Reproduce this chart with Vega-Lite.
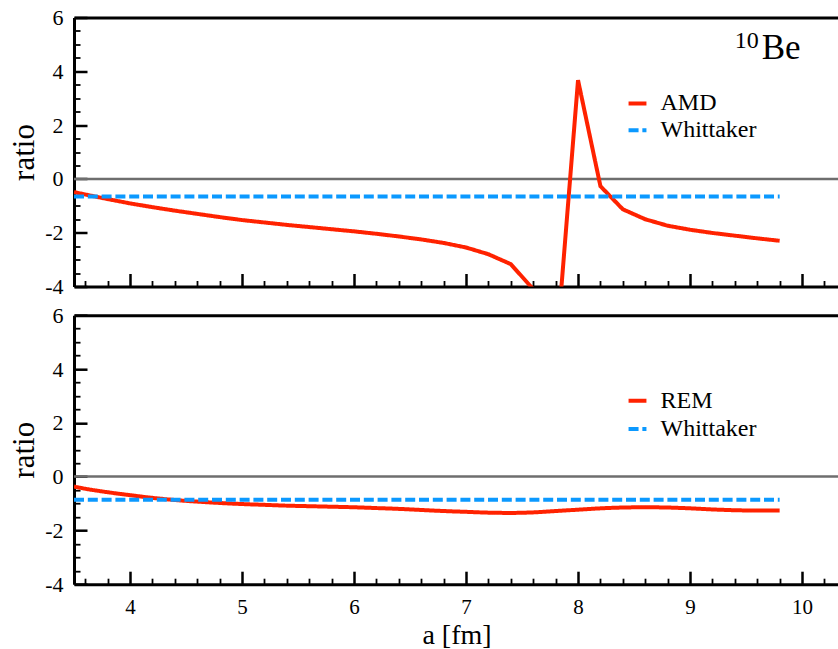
{
  "$schema": "https://vega.github.io/schema/vega-lite/v6.json",
  "background": "white",
  "padding": {"left": 8, "top": 6.5, "right": 0, "bottom": 0},
  "config": {
    "font": "Liberation Serif",
    "view": {"stroke": null},
    "style": {"guide-label": {"font": "Liberation Serif"}, "guide-title": {"font": "Liberation Serif"}},
    "axis": {"labelFont": "Liberation Serif", "titleFont": "Liberation Serif", "labelColor": "black", "titleColor": "black", "domainColor": "black", "tickColor": "black", "grid": false, "titleFontWeight": "normal"},
    "legend": {"labelFont": "Liberation Serif"},
    "text": {"font": "Liberation Serif", "color": "black"}
  },
  "datasets": {
    "amd": [
      {"a": 3.5, "ratio": -0.49, "series": "AMD"},
      {"a": 3.6, "ratio": -0.58, "series": "AMD"},
      {"a": 3.8, "ratio": -0.75, "series": "AMD"},
      {"a": 4.0, "ratio": -0.91, "series": "AMD"},
      {"a": 4.2, "ratio": -1.05, "series": "AMD"},
      {"a": 4.4, "ratio": -1.18, "series": "AMD"},
      {"a": 4.6, "ratio": -1.30, "series": "AMD"},
      {"a": 4.8, "ratio": -1.42, "series": "AMD"},
      {"a": 5.0, "ratio": -1.53, "series": "AMD"},
      {"a": 5.2, "ratio": -1.62, "series": "AMD"},
      {"a": 5.4, "ratio": -1.71, "series": "AMD"},
      {"a": 5.6, "ratio": -1.79, "series": "AMD"},
      {"a": 5.8, "ratio": -1.87, "series": "AMD"},
      {"a": 6.0, "ratio": -1.95, "series": "AMD"},
      {"a": 6.2, "ratio": -2.04, "series": "AMD"},
      {"a": 6.4, "ratio": -2.14, "series": "AMD"},
      {"a": 6.6, "ratio": -2.25, "series": "AMD"},
      {"a": 6.8, "ratio": -2.38, "series": "AMD"},
      {"a": 7.0, "ratio": -2.55, "series": "AMD"},
      {"a": 7.2, "ratio": -2.80, "series": "AMD"},
      {"a": 7.4, "ratio": -3.17, "series": "AMD"},
      {"a": 7.6, "ratio": -4.10, "series": "AMD"},
      {"a": 7.8, "ratio": -6.70, "series": "AMD"},
      {"a": 8.0, "ratio": 3.67, "series": "AMD"},
      {"a": 8.2, "ratio": -0.27, "series": "AMD"},
      {"a": 8.4, "ratio": -1.13, "series": "AMD"},
      {"a": 8.6, "ratio": -1.50, "series": "AMD"},
      {"a": 8.8, "ratio": -1.74, "series": "AMD"},
      {"a": 9.0, "ratio": -1.89, "series": "AMD"},
      {"a": 9.2, "ratio": -2.01, "series": "AMD"},
      {"a": 9.4, "ratio": -2.11, "series": "AMD"},
      {"a": 9.6, "ratio": -2.21, "series": "AMD"},
      {"a": 9.8, "ratio": -2.30, "series": "AMD"}
    ],
    "whitTop": [
      {"a": 3.5, "ratio": -0.65, "series": "Whittaker"},
      {"a": 9.8, "ratio": -0.65, "series": "Whittaker"}
    ],
    "rem": [
      {"a": 3.5, "ratio": -0.37, "series": "REM"},
      {"a": 3.6, "ratio": -0.45, "series": "REM"},
      {"a": 3.8, "ratio": -0.58, "series": "REM"},
      {"a": 4.0, "ratio": -0.69, "series": "REM"},
      {"a": 4.2, "ratio": -0.79, "series": "REM"},
      {"a": 4.4, "ratio": -0.87, "series": "REM"},
      {"a": 4.6, "ratio": -0.93, "series": "REM"},
      {"a": 4.8, "ratio": -0.98, "series": "REM"},
      {"a": 5.0, "ratio": -1.02, "series": "REM"},
      {"a": 5.2, "ratio": -1.05, "series": "REM"},
      {"a": 5.4, "ratio": -1.08, "series": "REM"},
      {"a": 5.6, "ratio": -1.10, "series": "REM"},
      {"a": 5.8, "ratio": -1.12, "series": "REM"},
      {"a": 6.0, "ratio": -1.14, "series": "REM"},
      {"a": 6.2, "ratio": -1.17, "series": "REM"},
      {"a": 6.4, "ratio": -1.20, "series": "REM"},
      {"a": 6.6, "ratio": -1.24, "series": "REM"},
      {"a": 6.8, "ratio": -1.28, "series": "REM"},
      {"a": 7.0, "ratio": -1.31, "series": "REM"},
      {"a": 7.2, "ratio": -1.34, "series": "REM"},
      {"a": 7.4, "ratio": -1.35, "series": "REM"},
      {"a": 7.6, "ratio": -1.33, "series": "REM"},
      {"a": 7.8, "ratio": -1.28, "series": "REM"},
      {"a": 8.0, "ratio": -1.23, "series": "REM"},
      {"a": 8.2, "ratio": -1.18, "series": "REM"},
      {"a": 8.4, "ratio": -1.15, "series": "REM"},
      {"a": 8.6, "ratio": -1.14, "series": "REM"},
      {"a": 8.8, "ratio": -1.15, "series": "REM"},
      {"a": 9.0, "ratio": -1.18, "series": "REM"},
      {"a": 9.2, "ratio": -1.22, "series": "REM"},
      {"a": 9.4, "ratio": -1.25, "series": "REM"},
      {"a": 9.6, "ratio": -1.26, "series": "REM"},
      {"a": 9.8, "ratio": -1.26, "series": "REM"}
    ],
    "whitBottom": [
      {"a": 3.5, "ratio": -0.86, "series": "Whittaker"},
      {"a": 9.8, "ratio": -0.86, "series": "Whittaker"}
    ]
  },
  "bounds": "flush",
  "spacing": 28.7,
  "resolve": {
    "scale": {"color": "independent", "strokeDash": "independent"},
    "legend": {"color": "independent", "strokeDash": "independent"}
  },
  "vconcat": [
    {
      "width": 765,
      "height": 269,
      "resolve": {"axis": {"x": "independent", "y": "independent"}},
      "layer": [
        {
          "data": {"values": [{}]},
          "mark": {"type": "rule", "color": "#6e6e6e", "strokeWidth": 2.5},
          "encoding": {
            "x": {"datum": 3.5, "type": "quantitative", "scale": {"domain": [3.5, 10.33], "nice": false, "zero": false},
              "axis": {"orient": "bottom", "values": [3.6, 3.8, 4.2, 4.4, 4.6, 4.8, 5.2, 5.4, 5.6, 5.8, 6.2, 6.4, 6.6, 6.8, 7.2, 7.4, 7.6, 7.8, 8.2, 8.4, 8.6, 8.8, 9.2, 9.4, 9.6, 9.8, 10.2], "tickSize": -6, "tickWidth": 1.8, "labels": false, "domain": false, "title": null}},
            "x2": {"datum": 10.33},
            "y": {"datum": 0, "type": "quantitative", "scale": {"domain": [-4, 6], "nice": false, "zero": false},
              "axis": {"orient": "left", "values": [-3.5, -3, -2.5, -1.5, -1, -0.5, 0.5, 1, 1.5, 2.5, 3, 3.5, 4.5, 5, 5.5], "tickSize": -6, "tickWidth": 1.8, "labels": false, "domain": false, "title": null}}
          }
        },
        {
          "data": {"name": "amd"},
          "mark": {"type": "line", "strokeWidth": 4, "clip": true},
          "encoding": {
            "x": {"field": "a", "type": "quantitative",
              "axis": {"orient": "bottom", "values": [4, 5, 6, 7, 8, 9, 10], "tickSize": -13, "tickWidth": 2.5, "domainWidth": 3, "labels": false, "title": null}},
            "y": {"field": "ratio", "type": "quantitative",
              "axis": {"orient": "left", "values": [-4, -2, 0, 2, 4, 6], "tickSize": -13, "tickWidth": 2.5, "domainWidth": 3, "labelFont": "Liberation Serif", "labelFontSize": 22, "labelPadding": 24, "labelFlush": false, "labelExpr": "'' + datum.value", "title": "ratio", "titleFont": "Liberation Serif", "titleFontSize": 31, "titlePadding": 4}},
            "color": {"field": "series", "type": "nominal", "scale": {"domain": ["AMD", "Whittaker"], "range": ["#ff2200", "#0b99ff"]},
              "legend": {"orient": "none", "legendX": 551.5, "legendY": 73.9, "title": null, "labelFontSize": 24, "labelFont": "Liberation Serif", "labelColor": "black", "symbolType": "stroke", "symbolSize": 320, "symbolStrokeWidth": 4, "labelOffset": 11, "rowPadding": 2.9, "padding": 0}},
            "strokeDash": {"field": "series", "type": "nominal", "scale": {"domain": ["AMD", "Whittaker"], "range": [[1, 0], [10, 3.8]]},
              "legend": {"orient": "none", "legendX": 551.5, "legendY": 73.9, "title": null, "labelFontSize": 24, "labelFont": "Liberation Serif", "labelColor": "black", "symbolType": "stroke", "symbolSize": 320, "symbolStrokeWidth": 4, "labelOffset": 11, "rowPadding": 2.9, "padding": 0}}
          }
        },
        {
          "data": {"name": "whitTop"},
          "mark": {"type": "line", "strokeWidth": 4, "clip": true},
          "encoding": {
            "x": {"field": "a", "type": "quantitative",
              "axis": {"orient": "top", "ticks": false, "labels": false, "domain": true, "domainWidth": 3, "title": null}},
            "y": {"field": "ratio", "type": "quantitative", "axis": null},
            "color": {"field": "series", "type": "nominal"},
            "strokeDash": {"field": "series", "type": "nominal"}
          }
        },
        {
          "data": {"values": [{}]},
          "mark": {"type": "text", "text": "10", "font": "Liberation Serif", "fontSize": 24, "align": "left", "baseline": "alphabetic"},
          "encoding": {
            "x": {"datum": 9.40, "type": "quantitative", "axis": null},
            "y": {"datum": 4.875, "type": "quantitative", "axis": null}
          }
        },
        {
          "data": {"values": [{}]},
          "mark": {"type": "text", "text": "Be", "font": "Liberation Serif", "fontSize": 35, "align": "left", "baseline": "alphabetic"},
          "encoding": {
            "x": {"datum": 9.64, "type": "quantitative", "axis": null},
            "y": {"datum": 4.44, "type": "quantitative", "axis": null}
          }
        }
      ]
    },
    {
      "width": 765,
      "height": 269,
      "resolve": {"axis": {"x": "independent", "y": "independent"}},
      "layer": [
        {
          "data": {"values": [{}]},
          "mark": {"type": "rule", "color": "#6e6e6e", "strokeWidth": 2.5},
          "encoding": {
            "x": {"datum": 3.5, "type": "quantitative", "scale": {"domain": [3.5, 10.33], "nice": false, "zero": false},
              "axis": {"orient": "bottom", "values": [3.6, 3.8, 4.2, 4.4, 4.6, 4.8, 5.2, 5.4, 5.6, 5.8, 6.2, 6.4, 6.6, 6.8, 7.2, 7.4, 7.6, 7.8, 8.2, 8.4, 8.6, 8.8, 9.2, 9.4, 9.6, 9.8, 10.2], "tickSize": -6, "tickWidth": 1.8, "labels": false, "domain": false, "title": null}},
            "x2": {"datum": 10.33},
            "y": {"datum": 0, "type": "quantitative", "scale": {"domain": [-4, 6], "nice": false, "zero": false},
              "axis": {"orient": "left", "values": [-3.5, -3, -2.5, -1.5, -1, -0.5, 0.5, 1, 1.5, 2.5, 3, 3.5, 4.5, 5, 5.5], "tickSize": -6, "tickWidth": 1.8, "labels": false, "domain": false, "title": null}}
          }
        },
        {
          "data": {"name": "rem"},
          "mark": {"type": "line", "strokeWidth": 4, "clip": true, "interpolate": "monotone"},
          "encoding": {
            "x": {"field": "a", "type": "quantitative",
              "axis": {"orient": "bottom", "values": [4, 5, 6, 7, 8, 9, 10], "tickSize": -13, "tickWidth": 2.5, "domainWidth": 3, "labelFont": "Liberation Serif", "labelFontSize": 21, "labelPadding": 25, "labelFlush": false, "labelExpr": "'' + datum.value", "title": "a [fm]", "titleFont": "Liberation Serif", "titleFontSize": 28, "titlePadding": 4}},
            "y": {"field": "ratio", "type": "quantitative",
              "axis": {"orient": "left", "values": [-4, -2, 0, 2, 4, 6], "tickSize": -13, "tickWidth": 2.5, "domainWidth": 3, "labelFont": "Liberation Serif", "labelFontSize": 22, "labelPadding": 24, "labelFlush": false, "labelExpr": "'' + datum.value", "title": "ratio", "titleFont": "Liberation Serif", "titleFontSize": 31, "titlePadding": 4}},
            "color": {"field": "series", "type": "nominal", "scale": {"domain": ["REM", "Whittaker"], "range": ["#ff2200", "#0b99ff"]},
              "legend": {"orient": "none", "legendX": 551.5, "legendY": 73.6, "title": null, "labelFontSize": 24, "labelFont": "Liberation Serif", "labelColor": "black", "symbolType": "stroke", "symbolSize": 320, "symbolStrokeWidth": 4, "labelOffset": 11, "rowPadding": 4.3, "padding": 0}},
            "strokeDash": {"field": "series", "type": "nominal", "scale": {"domain": ["REM", "Whittaker"], "range": [[1, 0], [10, 3.8]]},
              "legend": {"orient": "none", "legendX": 551.5, "legendY": 73.6, "title": null, "labelFontSize": 24, "labelFont": "Liberation Serif", "labelColor": "black", "symbolType": "stroke", "symbolSize": 320, "symbolStrokeWidth": 4, "labelOffset": 11, "rowPadding": 4.3, "padding": 0}}
          }
        },
        {
          "data": {"name": "whitBottom"},
          "mark": {"type": "line", "strokeWidth": 4, "clip": true},
          "encoding": {
            "x": {"field": "a", "type": "quantitative",
              "axis": {"orient": "top", "ticks": false, "labels": false, "domain": true, "domainWidth": 3, "title": null}},
            "y": {"field": "ratio", "type": "quantitative", "axis": null},
            "color": {"field": "series", "type": "nominal"},
            "strokeDash": {"field": "series", "type": "nominal"}
          }
        }
      ]
    }
  ]
}
